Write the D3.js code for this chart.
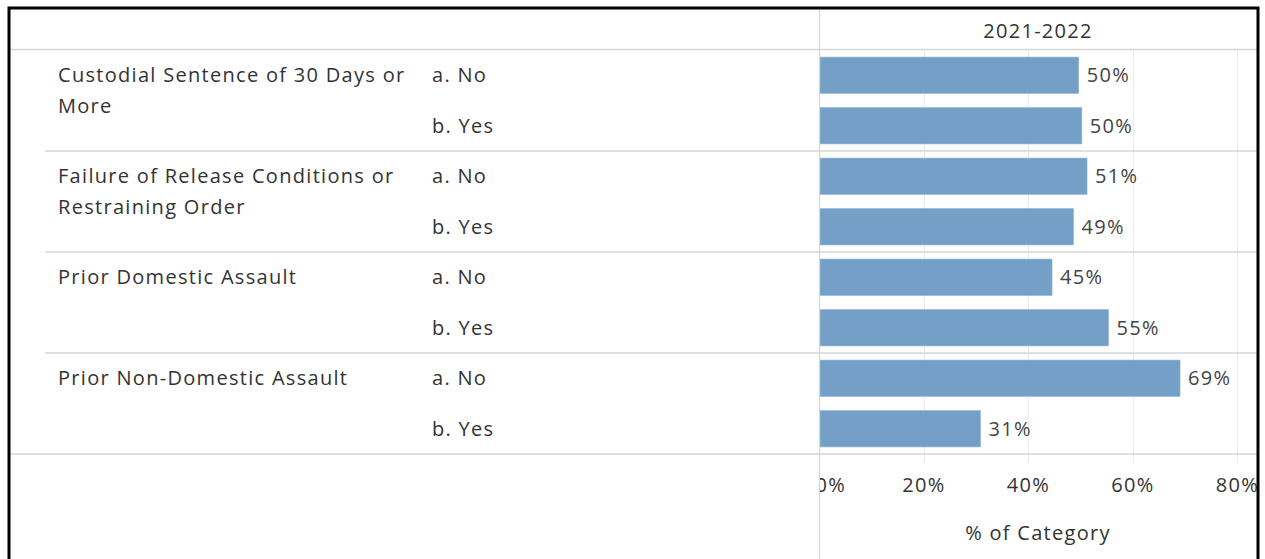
<!DOCTYPE html>
<html>
<head>
<meta charset="utf-8">
<script src="https://cdn.jsdelivr.net/npm/d3@7"></script>
<style>
  html, body { margin: 0; padding: 0; background: #fff; }
  svg { display: block; }
  text { font-family: "Open Sans", "Noto Sans", sans-serif; letter-spacing: 1.3px; }
</style>
</head>
<body>
<svg id="chart" width="1265" height="559"></svg>
<script>
// Categories, answers and shares (% of category) for 2021-2022
const categories = [
  "Custodial Sentence of 30 Days or More",
  "Failure of Release Conditions or Restraining Order",
  "Prior Domestic Assault",
  "Prior Non-Domestic Assault"
];
const answers = ["a. No", "b. Yes"];
const noShare = [0.497, 0.513, 0.446, 0.691];
const yesShare = [0.503, 0.487, 0.554, 0.309];
const columnHeader = "2021-2022";
const axisTitle = "% of Category";
const tickValues = [0, 0.2, 0.4, 0.6, 0.8];

// Flatten into one row per (category, answer)
const rows = [];
categories.forEach((c, i) => {
  rows.push({ cat: c, ci: i, ans: answers[0], value: noShare[i] });
  rows.push({ cat: c, ci: i, ans: answers[1], value: yesShare[i] });
});

const svg = d3.select("#chart");
const W = 1265, H = 559;

// Frame geometry
const frameL = 9, frameT = 8, frameR = 1258;
const headerY = 49.5;
const paneL = 819, paneR = 1257;
const rowsTop = 50, rowsBottom = 454;
const fontSize = 20;

const x = d3.scaleLinear().domain([0, 0.8]).range([paneL, 1237]);
const y = d3.scaleBand()
  .domain(d3.range(rows.length))
  .range([rowsTop, rowsBottom])
  .paddingInner(0.28)
  .paddingOuter(0.14);
const step = y.step();
const pct = d3.format(".0%");

const gridColor = "#ebebeb";
const ruleColor = "#d6d6d6";
const textColor = "#333333";

// Clip region for the measure pane (axis labels at the edges are cut)
svg.append("defs").append("clipPath").attr("id", "paneClip")
  .append("rect").attr("x", paneL + 1).attr("y", frameT).attr("width", paneR - paneL - 1).attr("height", H);

// Vertical gridlines
const gridG = svg.append("g");
gridG.selectAll("line").data(tickValues.filter(d => d > 0)).join("line")
  .attr("x1", d => Math.round(x(d)) + 0.5).attr("x2", d => Math.round(x(d)) + 0.5)
  .attr("y1", rowsTop).attr("y2", rowsBottom + 8)
  .attr("stroke", gridColor).attr("stroke-width", 1);

// Bars
svg.append("g").selectAll("rect").data(rows).join("rect")
  .attr("x", x(0) + 1)
  .attr("y", (d, i) => y(i))
  .attr("width", d => x(d.value) - x(0) - 1)
  .attr("height", y.bandwidth())
  .attr("fill", "#74a0c7")
  .attr("stroke", "#8fb3d4")
  .attr("stroke-width", 0.6);

// Value labels
svg.append("g").selectAll("text").data(rows).join("text")
  .attr("x", d => x(d.value) + 8)
  .attr("y", (d, i) => y(i) + y.bandwidth() / 2)
  .attr("dy", "0.35em")
  .attr("font-size", fontSize)
  .attr("fill", "#444")
  .text(d => pct(d.value));

// Answer labels
svg.append("g").selectAll("text").data(rows).join("text")
  .attr("x", 432)
  .attr("y", (d, i) => y(i) + y.bandwidth() / 2)
  .attr("dy", "0.35em")
  .attr("font-size", fontSize)
  .attr("fill", textColor)
  .text(d => d.ans);

// Category labels, word-wrapped to the first column width
const catWidth = 360;
const catG = svg.append("g");
categories.forEach((c, i) => {
  const t = catG.append("text")
    .attr("x", 58)
    .attr("y", y(i * 2) + y.bandwidth() / 2)
    .attr("dy", "0.35em")
    .attr("font-size", fontSize)
    .attr("fill", textColor);
  const words = c.split(" ");
  let line = [];
  let tspan = t.append("tspan").attr("x", 58);
  words.forEach(w => {
    line.push(w);
    tspan.text(line.join(" "));
    if (tspan.node().getComputedTextLength() > catWidth && line.length > 1) {
      line.pop();
      tspan.text(line.join(" "));
      line = [w];
      tspan = t.append("tspan").attr("x", 58).attr("dy", 31).text(w);
    }
  });
});

// Group separators
const sepG = svg.append("g");
categories.forEach((c, i) => {
  const yy = rowsTop + (i + 1) * 2 * step;
  const last = i === categories.length - 1;
  sepG.append("line")
    .attr("x1", last ? frameL + 1 : 45).attr("x2", paneR)
    .attr("y1", yy).attr("y2", yy)
    .attr("stroke", ruleColor).attr("stroke-width", 1.6);
});

// Header rule
svg.append("line")
  .attr("x1", frameL + 1).attr("x2", paneR)
  .attr("y1", headerY).attr("y2", headerY)
  .attr("stroke", ruleColor).attr("stroke-width", 1.6);

// Zero line / pane divider
svg.append("line")
  .attr("x1", paneL + 0.5).attr("x2", paneL + 0.5)
  .attr("y1", frameT).attr("y2", H)
  .attr("stroke", ruleColor).attr("stroke-width", 1.2);

// Column header
svg.append("text")
  .attr("x", (paneL + paneR) / 2)
  .attr("y", 38)
  .attr("text-anchor", "middle")
  .attr("font-size", fontSize)
  .attr("fill", textColor)
  .text(columnHeader);

// Bottom axis: tick labels via d3.axisBottom, clipped to the pane
const axisWrap = svg.append("g").attr("clip-path", "url(#paneClip)");
const axisG = axisWrap.append("g")
  .attr("transform", `translate(0, ${rowsBottom + 24})`)
  .call(d3.axisBottom(x).tickValues(tickValues).tickFormat(pct).tickSize(0).tickPadding(0));
axisG.select(".domain").remove();
axisG.selectAll("text")
  .attr("font-size", fontSize)
  .attr("font-family", '"Open Sans", "Noto Sans", sans-serif')
  .attr("fill", textColor)
  .attr("dy", "0.71em");
// The first label is nudged inward so most of it sits inside the pane
axisG.selectAll(".tick").filter(d => d === 0).select("text")
  .attr("text-anchor", "start")
  .attr("dx", -4);

// Axis title
svg.append("text")
  .attr("x", (paneL + paneR) / 2)
  .attr("y", 540)
  .attr("text-anchor", "middle")
  .attr("font-size", fontSize)
  .attr("fill", textColor)
  .text(axisTitle);

// Outer frame
svg.append("rect")
  .attr("x", frameL).attr("y", frameT)
  .attr("width", frameR - frameL).attr("height", H)
  .attr("fill", "none").attr("stroke", "#000").attr("stroke-width", 3);
</script>
</body>
</html>
